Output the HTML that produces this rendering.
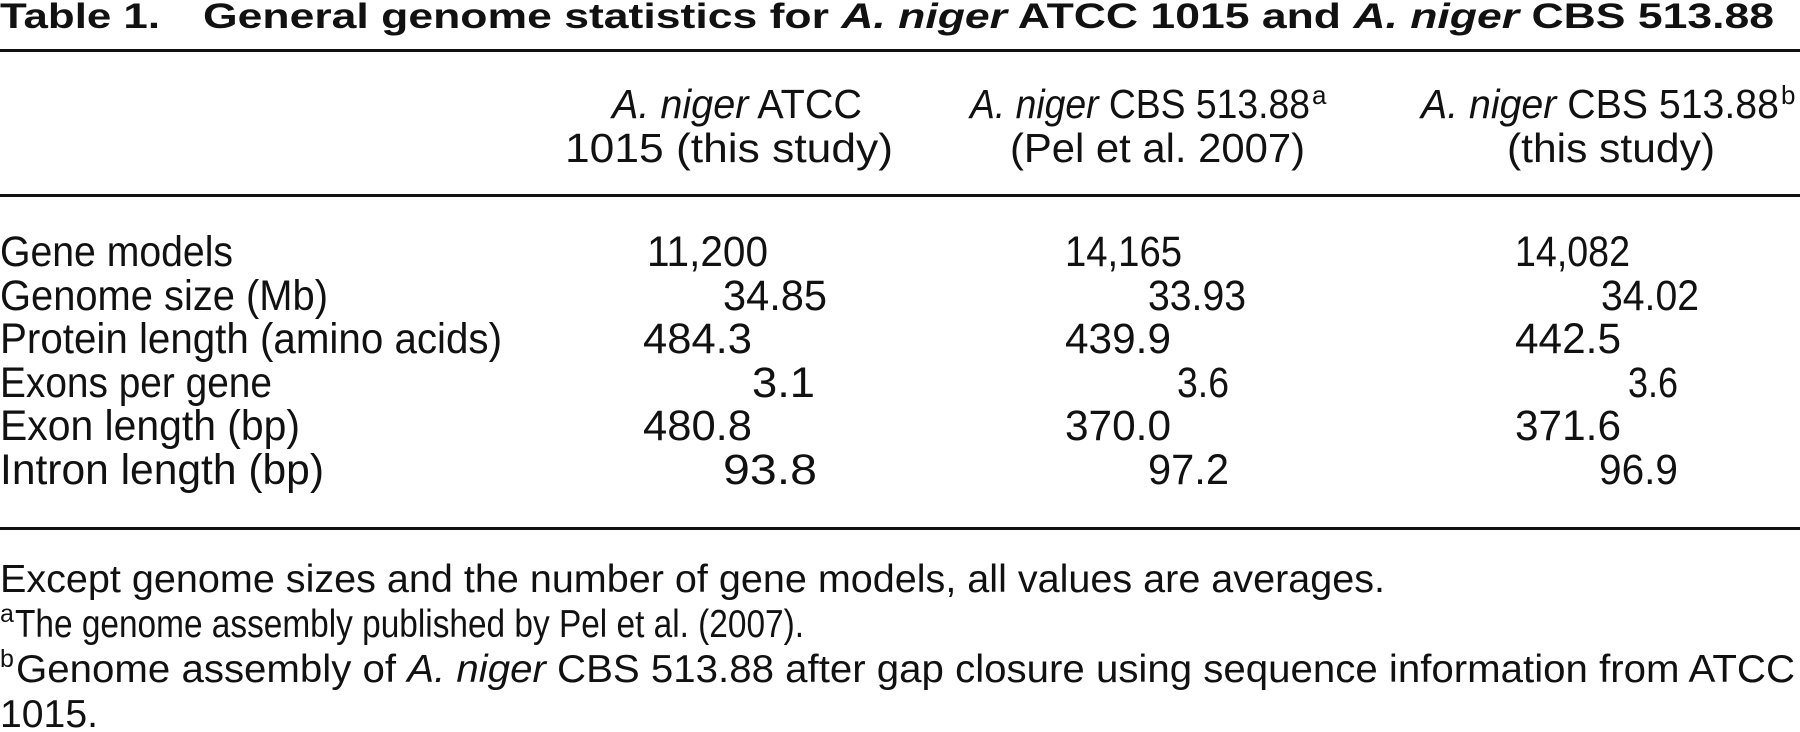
<!DOCTYPE html>
<html><head><meta charset="utf-8"><style>
html,body{margin:0;padding:0;background:#fff;width:1800px;height:732px;overflow:hidden}
svg{display:block}
text{font-family:"Liberation Sans",sans-serif;fill:#111}
</style></head><body>
<svg width="1800" height="732" viewBox="0 0 1800 732" xmlns="http://www.w3.org/2000/svg">
<text x="0" y="28" font-size="35" font-weight="bold" textLength="160" lengthAdjust="spacingAndGlyphs">Table 1.</text>
<text x="203" y="28" font-size="35" font-weight="bold" textLength="1571" lengthAdjust="spacingAndGlyphs">General genome statistics for <tspan font-style="italic">A. niger</tspan> ATCC 1015 and <tspan font-style="italic">A. niger</tspan> CBS 513.88</text>
<rect x="0" y="49" width="1800" height="3" fill="#111"/>
<rect x="0" y="194" width="1800" height="3" fill="#111"/>
<rect x="0" y="527" width="1800" height="3" fill="#111"/>

<g font-size="41">
<text x="612" y="118" textLength="250" lengthAdjust="spacingAndGlyphs"><tspan font-style="italic">A. niger</tspan> ATCC</text>
<text x="565" y="162" textLength="328" lengthAdjust="spacingAndGlyphs">1015 (this study)</text>
<text x="970" y="118" textLength="340" lengthAdjust="spacingAndGlyphs"><tspan font-style="italic">A. niger</tspan> CBS 513.88</text>
<text x="1312" y="104" font-size="26">a</text>
<text x="1010" y="162" textLength="295" lengthAdjust="spacingAndGlyphs">(Pel et al. 2007)</text>
<text x="1421" y="118" textLength="358" lengthAdjust="spacingAndGlyphs"><tspan font-style="italic">A. niger</tspan> CBS 513.88</text>
<text x="1781" y="104" font-size="26">b</text>
<text x="1507" y="162" textLength="208" lengthAdjust="spacingAndGlyphs">(this study)</text>
</g>

<g font-size="43">
<text x="0" y="266" textLength="233" lengthAdjust="spacingAndGlyphs">Gene models</text>
<text x="0" y="310" textLength="328" lengthAdjust="spacingAndGlyphs">Genome size (Mb)</text>
<text x="0" y="353" textLength="502" lengthAdjust="spacingAndGlyphs">Protein length (amino acids)</text>
<text x="0" y="397" textLength="272" lengthAdjust="spacingAndGlyphs">Exons per gene</text>
<text x="0" y="440" textLength="300" lengthAdjust="spacingAndGlyphs">Exon length (bp)</text>
<text x="0" y="484" textLength="324" lengthAdjust="spacingAndGlyphs">Intron length (bp)</text>

<text x="647" y="266" textLength="121" lengthAdjust="spacingAndGlyphs">11,200</text>
<text x="723" y="310" textLength="104" lengthAdjust="spacingAndGlyphs">34.85</text>
<text x="643" y="353" textLength="109" lengthAdjust="spacingAndGlyphs">484.3</text>
<text x="752" y="397" textLength="63" lengthAdjust="spacingAndGlyphs">3.1</text>
<text x="643" y="440" textLength="109" lengthAdjust="spacingAndGlyphs">480.8</text>
<text x="723" y="484" textLength="94" lengthAdjust="spacingAndGlyphs">93.8</text>

<text x="1065" y="266" textLength="117" lengthAdjust="spacingAndGlyphs">14,165</text>
<text x="1148" y="310" textLength="98" lengthAdjust="spacingAndGlyphs">33.93</text>
<text x="1065" y="353" textLength="106" lengthAdjust="spacingAndGlyphs">439.9</text>
<text x="1177" y="397" textLength="52" lengthAdjust="spacingAndGlyphs">3.6</text>
<text x="1065" y="440" textLength="106" lengthAdjust="spacingAndGlyphs">370.0</text>
<text x="1148" y="484" textLength="81" lengthAdjust="spacingAndGlyphs">97.2</text>

<text x="1515" y="266" textLength="115" lengthAdjust="spacingAndGlyphs">14,082</text>
<text x="1601" y="310" textLength="98" lengthAdjust="spacingAndGlyphs">34.02</text>
<text x="1515" y="353" textLength="106" lengthAdjust="spacingAndGlyphs">442.5</text>
<text x="1628" y="397" textLength="50" lengthAdjust="spacingAndGlyphs">3.6</text>
<text x="1515" y="440" textLength="106" lengthAdjust="spacingAndGlyphs">371.6</text>
<text x="1599" y="484" textLength="79" lengthAdjust="spacingAndGlyphs">96.9</text>
</g>

<g font-size="39">
<text x="0" y="592" textLength="1385" lengthAdjust="spacingAndGlyphs">Except genome sizes and the number of gene models, all values are averages.</text>
<text x="0" y="622" font-size="25">a</text>
<text x="15" y="637" textLength="789" lengthAdjust="spacingAndGlyphs">The genome assembly published by Pel et al. (2007).</text>
<text x="0" y="667" font-size="25">b</text>
<text x="16" y="682" textLength="1779" lengthAdjust="spacingAndGlyphs">Genome assembly of <tspan font-style="italic">A. niger</tspan> CBS 513.88 after gap closure using sequence information from ATCC</text>
<text x="0" y="727" textLength="98" lengthAdjust="spacingAndGlyphs">1015.</text>
</g>
</svg>
</body></html>
